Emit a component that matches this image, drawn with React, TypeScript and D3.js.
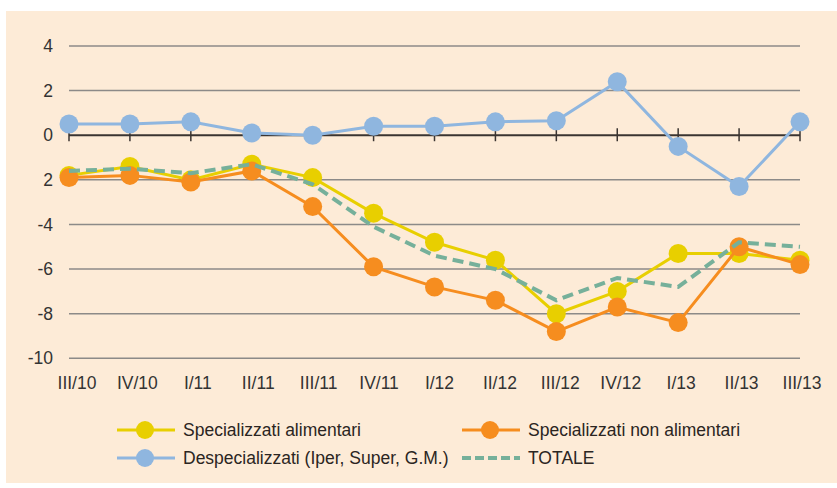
import React, { useEffect, useRef } from 'react';
import * as d3 from 'd3';

const categories = ['III/10', 'IV/10', 'I/11', 'II/11', 'III/11', 'IV/11', 'I/12', 'II/12', 'III/12', 'IV/12', 'I/13', 'II/13', 'III/13'];
const alimentari = [-1.8, -1.4, -2.0, -1.3, -1.9, -3.5, -4.8, -5.6, -8.0, -7.0, -5.3, -5.3, -5.6];
const nonAlimentari = [-1.9, -1.8, -2.1, -1.6, -3.2, -5.9, -6.8, -7.4, -8.8, -7.7, -8.4, -5.0, -5.8];
const despecializzati = [0.5, 0.5, 0.6, 0.1, 0.0, 0.4, 0.4, 0.6, 0.65, 2.4, -0.5, -2.3, 0.6];
const totale = [-1.6, -1.5, -1.7, -1.3, -2.2, -4.1, -5.4, -6.0, -7.4, -6.4, -6.8, -4.8, -5.0];
const yTicks = [4, 2, 0, -2, -4, -6, -8, -10];
const yTickLabels = ['4', '2', '0', '2', '-4', '-6', '-8', '-10'];

const series = [
  { name: 'Specializzati alimentari', values: alimentari, color: '#e8cf00', marker: true, dash: null },
  { name: 'Specializzati non alimentari', values: nonAlimentari, color: '#f68d1f', marker: true, dash: null },
  { name: 'Despecializzati (Iper, Super, G.M.)', values: despecializzati, color: '#8fb6df', marker: true, dash: null },
  { name: 'TOTALE', values: totale, color: '#76b09a', marker: false, dash: '11,6' },
];

const W = 837;
const H = 488;
const FONT = '"Liberation Sans", Arial, sans-serif';

export default function App() {
  const ref = useRef<SVGSVGElement>(null);

  useEffect(() => {
    const svg = d3.select(ref.current);
    svg.selectAll('*').remove();

    // pannello di sfondo
    svg.append('rect')
      .attr('x', 6).attr('y', 11)
      .attr('width', W - 6).attr('height', 472)
      .attr('fill', '#fdebd7');

    const x = d3.scalePoint<string>().domain(categories).range([69, 800]);
    const xLabel = d3.scalePoint<string>().domain(categories).range([77, 802]);
    const y = d3.scaleLinear().domain([-10, 4]).range([358.3, 46]);

    // griglia
    const grid = svg.append('g');
    yTicks.forEach((t, i) => {
      if (t !== 0) {
        grid.append('line')
          .attr('x1', 69).attr('x2', 800)
          .attr('y1', y(t)).attr('y2', y(t))
          .attr('stroke', '#8c8a88')
          .attr('stroke-width', 1.5);
      }
      grid.append('text')
        .attr('x', 53)
        .attr('y', y(t))
        .attr('dy', '0.35em')
        .attr('text-anchor', 'end')
        .attr('font-family', FONT)
        .attr('font-size', 17.5)
        .attr('fill', '#333')
        .text(yTickLabels[i]);
    });

    // asse dello zero con tacche
    const axis = svg.append('g');
    axis.append('line')
      .attr('x1', 69).attr('x2', 800)
      .attr('y1', y(0)).attr('y2', y(0))
      .attr('stroke', '#3a3431')
      .attr('stroke-width', 1.8);
    categories.forEach(c => {
      axis.append('line')
        .attr('x1', x(c)).attr('x2', x(c))
        .attr('y1', y(0) - 7).attr('y2', y(0) + 6)
        .attr('stroke', '#3a3431')
        .attr('stroke-width', 1.5);
    });

    // etichette categorie
    svg.append('g').selectAll('text')
      .data(categories)
      .enter()
      .append('text')
      .attr('x', d => xLabel(d) as number)
      .attr('y', 389)
      .attr('text-anchor', 'middle')
      .attr('font-family', FONT)
      .attr('font-size', 17.5)
      .attr('fill', '#333')
      .text(d => d);

    const line = d3.line<number>()
      .x((d, i) => x(categories[i]) as number)
      .y(d => y(d));

    series.forEach(s => {
      const g = svg.append('g');
      g.append('path')
        .attr('d', line(s.values))
        .attr('fill', 'none')
        .attr('stroke', s.color)
        .attr('stroke-width', s.dash ? 4 : 3)
        .attr('stroke-dasharray', s.dash);
      if (s.marker) {
        g.selectAll('circle')
          .data(s.values)
          .enter()
          .append('circle')
          .attr('cx', (d, i) => x(categories[i]) as number)
          .attr('cy', d => y(d))
          .attr('r', 9.5)
          .attr('fill', s.color);
      }
    });

    // legenda
    const legendPos = [
      { lx: 117, ly: 430 },
      { lx: 462, ly: 430 },
      { lx: 117, ly: 458 },
      { lx: 462, ly: 458 },
    ];
    series.forEach((s, i) => {
      const p = legendPos[i];
      const g = svg.append('g').attr('transform', `translate(${p.lx},${p.ly})`);
      g.append('line')
        .attr('x1', 0).attr('x2', 58)
        .attr('y1', 0).attr('y2', 0)
        .attr('stroke', s.color)
        .attr('stroke-width', s.dash ? 4 : 3)
        .attr('stroke-dasharray', s.dash ? '9,4' : null);
      if (s.marker) {
        g.append('circle')
          .attr('cx', 28).attr('cy', 0)
          .attr('r', 9)
          .attr('fill', s.color);
      }
      g.append('text')
        .attr('x', 66)
        .attr('y', 0)
        .attr('dy', '0.35em')
        .attr('font-family', FONT)
        .attr('font-size', 17.5)
        .attr('fill', '#2b2522')
        .text(s.name);
    });
  }, []);

  return (
    <svg
      ref={ref}
      width={W}
      height={H}
      style={{ position: 'absolute', left: 0, top: 0, background: '#fff' }}
    />
  );
}
